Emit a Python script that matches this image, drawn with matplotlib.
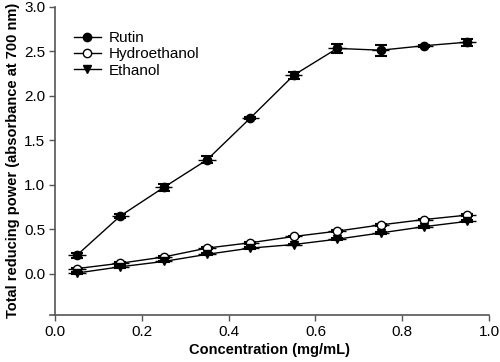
import matplotlib
matplotlib.use('Agg')
import matplotlib.pyplot as plt
from matplotlib.ticker import FormatStrFormatter

plt.rcParams['font.family'] = ['Liberation Sans', 'DejaVu Sans']

conc = [0.05, 0.15, 0.25, 0.35, 0.45, 0.55, 0.65, 0.75, 0.85, 0.95]

rutin = [0.21, 0.65, 0.97, 1.28, 1.75, 2.23, 2.53, 2.51, 2.56, 2.60]
rutin_err = [0.03, 0.02, 0.04, 0.04, 0.01, 0.04, 0.05, 0.06, 0.01, 0.04]

hydro = [0.06, 0.12, 0.19, 0.29, 0.35, 0.42, 0.48, 0.55, 0.61, 0.66]
hydro_err = [0.01, 0.01, 0.01, 0.01, 0.01, 0.01, 0.01, 0.01, 0.01, 0.01]

ethanol = [0.01, 0.08, 0.14, 0.22, 0.29, 0.33, 0.39, 0.46, 0.53, 0.59]
ethanol_err = [0.01, 0.01, 0.01, 0.01, 0.01, 0.01, 0.01, 0.01, 0.01, 0.01]

x_err = 0.02

fig = plt.figure(figsize=(5.0, 3.62), dpi=100)
ax = fig.add_axes([0.1, 0.13, 0.878, 0.852])

series = [
    (rutin, rutin_err, 'o', 'black', 'Rutin'),
    (hydro, hydro_err, 'o', 'white', 'Hydroethanol'),
    (ethanol, ethanol_err, 'v', 'black', 'Ethanol'),
]
for vals, err, mk, fc, name in series:
    # horizontal bars without caps, vertical bars with caps
    ax.errorbar(conc, vals, xerr=x_err, fmt='none', ecolor='black',
                elinewidth=1, capsize=0, zorder=2)
    ax.errorbar(conc, vals, yerr=err, fmt='none', ecolor='black',
                elinewidth=1, capsize=4, capthick=1.5, zorder=2)
    ax.plot(conc, vals, '-', marker=mk, color='black', mfc=fc, mec='black',
            lw=1, ms=6, label=name, zorder=3)

ax.set_xlim(-0.012, 1.0)
ax.set_ylim(-0.46, 3.0)
ax.set_xticks([0.0, 0.2, 0.4, 0.6, 0.8, 1.0])
ax.set_yticks([0.0, 0.5, 1.0, 1.5, 2.0, 2.5, 3.0])
ax.xaxis.set_major_formatter(FormatStrFormatter('%.1f'))
ax.yaxis.set_major_formatter(FormatStrFormatter('%.1f'))

ax.spines['top'].set_visible(False)
ax.spines['right'].set_visible(False)
ax.spines['left'].set_position(('data', 0.0))
for s in ['left', 'bottom']:
    ax.spines[s].set_color('#555555')
    ax.spines[s].set_linewidth(1.2)
ax.tick_params(direction='out', length=4, width=1, color='#555555',
               labelsize=11, pad=3)

ax.set_xlabel('Concentration (mg/mL)', fontsize=10.5, fontweight='bold', labelpad=3)
ax.set_ylabel('Total reducing power (absorbance at 700 nm)', fontsize=10.5,
              fontweight='bold', labelpad=3)

ax.legend(loc='upper left', bbox_to_anchor=(0.04, 0.94), frameon=False,
          fontsize=11, handlelength=1.8, handletextpad=0.5,
          labelspacing=0.15, borderaxespad=0)

fig.savefig('out.png', dpi=100)
